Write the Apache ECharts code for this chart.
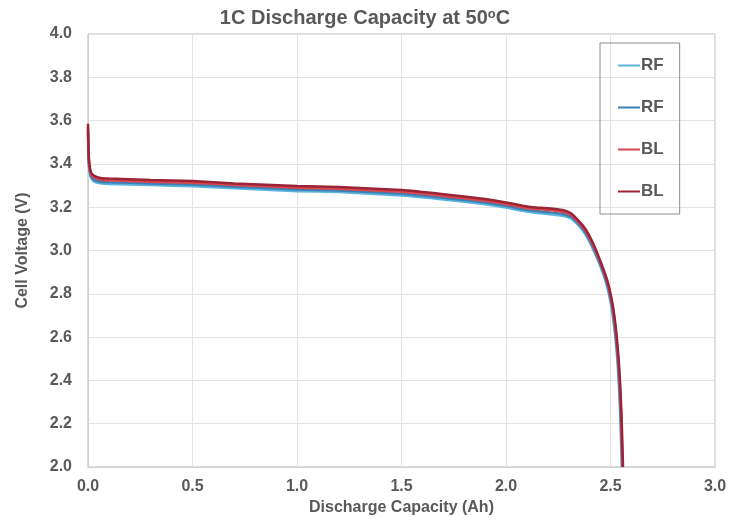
<!DOCTYPE html>
<html>
<head>
<meta charset="utf-8">
<script src="https://cdn.jsdelivr.net/npm/echarts@6/dist/echarts.min.js"></script>
<style>
  html, body { margin: 0; padding: 0; background: #fff; }
  #chart { width: 730px; height: 521px; }
</style>
</head>
<body>
<div id="chart"></div>
<script>
// [capacity (Ah), voltage (V)]
const rf1 = [
  [0, 3.53], [0.003, 3.41], [0.008, 3.36], [0.015, 3.335], [0.03, 3.318], [0.06, 3.31],
  [0.1, 3.307], [0.3, 3.302], [0.5, 3.297], [0.7, 3.287], [1.0, 3.274], [1.2, 3.27],
  [1.5, 3.254], [1.7, 3.236], [1.9, 3.214], [2.0, 3.199], [2.08, 3.183], [2.13, 3.175],
  [2.2, 3.168], [2.27, 3.160], [2.31, 3.148], [2.35, 3.113], [2.38, 3.075], [2.41, 3.02],
  [2.45, 2.93], [2.482, 2.84], [2.506, 2.73], [2.522, 2.61], [2.533, 2.49], [2.541, 2.36],
  [2.547, 2.22], [2.551, 2.10], [2.554, 2.0]
];
const rf2 = [
  [0, 3.55], [0.003, 3.42], [0.008, 3.37], [0.015, 3.342], [0.03, 3.326], [0.06, 3.318],
  [0.1, 3.315], [0.3, 3.31], [0.5, 3.305], [0.7, 3.295], [1.0, 3.282], [1.2, 3.277],
  [1.5, 3.262], [1.7, 3.244], [1.9, 3.222], [2.0, 3.207], [2.08, 3.191], [2.13, 3.184],
  [2.2, 3.177], [2.27, 3.169], [2.31, 3.156], [2.35, 3.12], [2.38, 3.083], [2.412, 3.025],
  [2.452, 2.935], [2.484, 2.845], [2.508, 2.735], [2.524, 2.615], [2.535, 2.495], [2.543, 2.365],
  [2.549, 2.225], [2.553, 2.10], [2.556, 2.0]
];
const bl1 = [
  [0, 3.57], [0.003, 3.44], [0.008, 3.38], [0.015, 3.352], [0.03, 3.337], [0.06, 3.327],
  [0.1, 3.324], [0.3, 3.318], [0.5, 3.313], [0.7, 3.303], [1.0, 3.290], [1.2, 3.285],
  [1.5, 3.271], [1.7, 3.252], [1.9, 3.230], [2.0, 3.215], [2.08, 3.199], [2.13, 3.193],
  [2.2, 3.187], [2.27, 3.179], [2.31, 3.165], [2.35, 3.128], [2.38, 3.092], [2.414, 3.03],
  [2.454, 2.94], [2.486, 2.85], [2.510, 2.74], [2.526, 2.62], [2.537, 2.50], [2.545, 2.37],
  [2.551, 2.23], [2.555, 2.10], [2.558, 2.0]
];
const bl2 = [
  [0, 3.585], [0.003, 3.45], [0.008, 3.39], [0.015, 3.36], [0.03, 3.345], [0.06, 3.335],
  [0.1, 3.332], [0.3, 3.326], [0.5, 3.321], [0.7, 3.31], [1.0, 3.298], [1.2, 3.293],
  [1.5, 3.279], [1.7, 3.26], [1.9, 3.238], [2.0, 3.222], [2.08, 3.207], [2.13, 3.2],
  [2.2, 3.195], [2.27, 3.187], [2.31, 3.172], [2.35, 3.135], [2.38, 3.10], [2.416, 3.035],
  [2.456, 2.94], [2.488, 2.85], [2.512, 2.74], [2.528, 2.62], [2.539, 2.50], [2.547, 2.37],
  [2.553, 2.23], [2.557, 2.10], [2.56, 2.0]
];
const seriesNames = ['RF', 'RF', 'BL', 'BL'];
const seriesColors = ['#5ab4dc', '#3f7fb8', '#d9474b', '#9c2436'];

const font = 'Liberation Sans, Arial, sans-serif';
const grey = '#595959';

const chart = echarts.init(document.getElementById('chart'));
chart.setOption({
  animation: false,
  textStyle: { fontFamily: font },
  title: {
    text: '1C Discharge Capacity at 50{sup|o}C',
    left: 'center',
    top: 3,
    textStyle: {
      fontFamily: font, fontSize: 20, fontWeight: 'bold', color: grey,
      rich: {
        sup: { fontFamily: font, fontSize: 13, fontWeight: 'bold', color: grey, padding: [0, 0, 8, 0] }
      }
    }
  },
  grid: {
    left: 88, right: 15, top: 34, bottom: 54,
    show: true, borderColor: '#b8b8b8', borderWidth: 1
  },
  legend: {
    orient: 'vertical',
    left: 600, top: 43,
    padding: [14, 16, 14, 18],
    itemGap: 25,
    itemWidth: 22, itemHeight: 2,
    icon: 'rect',
    borderColor: '#8c8c8c', borderWidth: 1,
    textStyle: { fontFamily: font, fontSize: 17, fontWeight: 'bold', color: grey, padding: [0, 0, 0, -4] },
    data: ['RF1', 'RF2', 'BL1', 'BL2'],
    formatter: function (n) { return n.slice(0, 2); }
  },
  xAxis: {
    type: 'value', min: 0, max: 3, interval: 0.5,
    name: 'Discharge Capacity (Ah)', nameLocation: 'middle', nameGap: 30,
    nameTextStyle: { fontFamily: font, fontSize: 16, fontWeight: 'bold', color: grey },
    axisLine: { show: true, lineStyle: { color: '#d0d0d0' } },
    axisTick: { show: false },
    axisLabel: { margin: 12, fontSize: 16, fontWeight: 'bold', color: grey, formatter: v => v.toFixed(1) },
    splitLine: { lineStyle: { color: '#e2e2e2' } }
  },
  yAxis: {
    type: 'value', min: 2, max: 4, interval: 0.2,
    name: 'Cell Voltage (V)', nameLocation: 'middle', nameGap: 57,
    nameTextStyle: { fontFamily: font, fontSize: 16, fontWeight: 'bold', color: grey },
    axisLine: { show: true, lineStyle: { color: '#d0d0d0' } },
    axisTick: { show: false },
    axisLabel: { margin: 16, fontSize: 16, fontWeight: 'bold', color: grey, formatter: v => v.toFixed(1) },
    splitLine: { lineStyle: { color: '#e2e2e2' } }
  },
  series: [rf1, rf2, bl1, bl2].map((d, i) => ({
    name: seriesNames[i] + (i % 2 + 1),
    type: 'line',
    data: d,
    smooth: 0.15,
    showSymbol: false,
    color: seriesColors[i],
    lineStyle: { width: 2.5, color: seriesColors[i] }
  }))
});
</script>
</body>
</html>
